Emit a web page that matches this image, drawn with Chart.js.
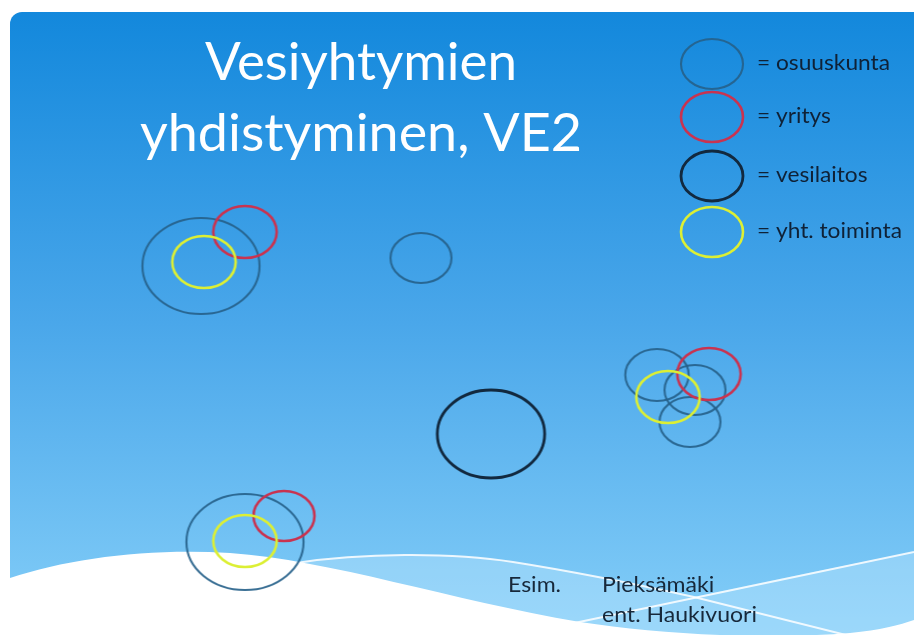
<!DOCTYPE html>
<html>
<head>
<meta charset="utf-8">
<title>Vesiyhtymien yhdistyminen, VE2</title>
<script src="https://cdn.jsdelivr.net/npm/chart.js@4"></script>
<style>
  html, body { margin: 0; padding: 0; background: #fff; overflow: hidden; }
  #wrap { position: relative; width: 914px; height: 635px; }
</style>
</head>
<body>
<div id="wrap"><canvas id="myChart"></canvas></div>
<script>
const TITLE = ['Vesiyhtymien', 'yhdistyminen, VE2'];
const CATEGORIES = ['osuuskunta', 'yritys', 'vesilaitos', 'yht. toiminta'];
const NOTE_LEFT = 'Esim.';
const NOTE_RIGHT = ['Pieksämäki', 'ent. Haukivuori'];

// slide units: x to the right, y downwards; r = half height of the ring
const osuuskuntaX = [201, 421, 657, 695, 690, 245];
const osuuskuntaY = [266, 258, 375, 390, 422, 542];
const osuuskuntaR = [48, 25, 26, 25, 25, 48];

const yritysX = [245, 709, 284];
const yritysY = [232, 374, 516];
const yritysR = [26, 26, 25];

const vesilaitosX = [491];
const vesilaitosY = [434];
const vesilaitosR = [44];

const yhtToimintaX = [204, 668, 245];
const yhtToimintaY = [262, 397, 541];
const yhtToimintaR = [26, 26, 26];

const ASPECT = 1.22; // rings are a bit wider than tall

const STYLES = {
  'osuuskunta': { color: 'rgba(38,96,138,0.9)', width: 2.1, order: 3 },
  'yritys': { color: '#c93350', width: 2.6, order: 1 },
  'vesilaitos': { color: '#12293f', width: 2.8, order: 2 },
  'yht. toiminta': { color: '#dcef34', width: 2.6, order: 0 }
};

const ellipseCache = {};
function ellipseImage(rx, ry, color, lw) {
  const key = [rx, ry, color, lw].join('|');
  if (ellipseCache[key]) return ellipseCache[key];
  const c = document.createElement('canvas');
  const pad = Math.ceil(lw) + 2;
  c.width = Math.round(rx * 2 + pad * 2);
  c.height = Math.round(ry * 2 + pad * 2);
  const g = c.getContext('2d');
  g.strokeStyle = color;
  g.lineWidth = lw;
  g.beginPath();
  g.ellipse(c.width / 2, c.height / 2, rx, ry, 0, 0, Math.PI * 2);
  g.stroke();
  ellipseCache[key] = c;
  return c;
}

const series = (xs, ys, rs) => xs.map((x, i) => ({ x: x, y: ys[i], r: rs[i] }));

const SERIES = {
  'osuuskunta': series(osuuskuntaX, osuuskuntaY, osuuskuntaR),
  'yritys': series(yritysX, yritysY, yritysR),
  'vesilaitos': series(vesilaitosX, vesilaitosY, vesilaitosR),
  'yht. toiminta': series(yhtToimintaX, yhtToimintaY, yhtToimintaR)
};

// draw text squeezed/stretched horizontally
function fitText(ctx, text, x, y, scaleX) {
  ctx.save();
  ctx.translate(x, y);
  ctx.scale(scaleX, 1);
  ctx.fillText(text, 0, 0);
  ctx.restore();
}

const slideBackground = {
  id: 'slideBackground',
  beforeDraw(chart) {
    const ctx = chart.ctx;
    const w = chart.width, h = chart.height;
    ctx.save();
    ctx.fillStyle = '#ffffff';
    ctx.fillRect(0, 0, w, h);

    // slide body
    const grad = ctx.createLinearGradient(0, 12, 0, h);
    grad.addColorStop(0, '#1388dc');
    grad.addColorStop(0.5, '#4aa7ea');
    grad.addColorStop(1, '#84cef8');
    ctx.fillStyle = grad;
    ctx.beginPath();
    ctx.roundRect(10, 12, w + 20, h + 20, 12);
    ctx.fill();

    // light band behind the waves
    ctx.fillStyle = 'rgba(200,235,255,0.35)';
    ctx.beginPath();
    ctx.moveTo(296, 563);
    ctx.bezierCurveTo(360, 553, 450, 552, 513, 562);
    ctx.bezierCurveTo(570, 571, 640, 585, 694, 597);
    ctx.quadraticCurveTo(810, 572, w, 552);
    ctx.lineTo(w, h);
    ctx.lineTo(296, h);
    ctx.closePath();
    ctx.fill();

    // white wave
    ctx.fillStyle = '#ffffff';
    ctx.beginPath();
    ctx.moveTo(10, 578);
    ctx.bezierCurveTo(70, 558, 150, 548, 230, 553);
    ctx.bezierCurveTo(330, 560, 450, 600, 580, 622);
    ctx.bezierCurveTo(660, 634, 760, 640, 850, 633);
    ctx.bezierCurveTo(880, 630, 900, 625, w, 620);
    ctx.lineTo(w, h);
    ctx.lineTo(10, h);
    ctx.closePath();
    ctx.fill();

    // thin white lines
    ctx.strokeStyle = 'rgba(255,255,255,0.85)';
    ctx.lineWidth = 2;
    ctx.beginPath();
    ctx.moveTo(296, 563);
    ctx.bezierCurveTo(360, 553, 450, 552, 513, 562);
    ctx.bezierCurveTo(570, 571, 640, 585, 694, 597);
    ctx.lineTo(850, 636);
    ctx.stroke();
    ctx.beginPath();
    ctx.moveTo(560, 626);
    ctx.quadraticCurveTo(740, 588, w, 552);
    ctx.stroke();
    ctx.restore();
  },
  afterDraw(chart) {
    const ctx = chart.ctx;
    ctx.save();

    // title
    ctx.fillStyle = '#ffffff';
    ctx.textBaseline = 'alphabetic';
    ctx.textAlign = 'left';
    ctx.font = '52px Lato';
    const targets = [[205, 80, 312], [140, 151, 442]];
    TITLE.forEach((line, i) => {
      const t = targets[i];
      const wNat = ctx.measureText(line).width;
      fitText(ctx, line, t[0], t[1], t[2] / wNat);
    });

    // legend
    ctx.fillStyle = '#0f2136';
    ctx.font = '21px Lato';
    const legSx = 133 / ctx.measureText('= ' + CATEGORIES[0]).width;
    const legY = [64, 117, 176, 232];
    CATEGORIES.forEach((cat, i) => {
      const st = STYLES[cat];
      const img = ellipseImage(31, 25, st.color, st.width);
      ctx.drawImage(img, 712 - img.width / 2, legY[i] - img.height / 2);
      fitText(ctx, '= ' + cat, 757, legY[i] + 6, legSx);
    });

    // note
    ctx.fillStyle = '#17283a';
    ctx.font = '22px Lato';
    const noteSx = 155 / ctx.measureText(NOTE_RIGHT[1]).width;
    fitText(ctx, NOTE_LEFT, 508, 592, noteSx);
    fitText(ctx, NOTE_RIGHT[0], 602, 592, noteSx);
    fitText(ctx, NOTE_RIGHT[1], 602, 622, noteSx);
    ctx.restore();
  }
};

function draw() {
  const ctx = document.getElementById('myChart');
  new Chart(ctx, {
    type: 'bubble',
    data: {
      datasets: CATEGORIES.map(cat => ({
        label: cat,
        data: SERIES[cat],
        order: STYLES[cat].order,
        clip: false,
        backgroundColor: 'rgba(0,0,0,0)',
        borderWidth: 0,
        pointStyle: c => c.raw ? ellipseImage(c.raw.r * ASPECT, c.raw.r, STYLES[cat].color, STYLES[cat].width) : 'circle'
      }))
    },
    options: {
      responsive: true,
      maintainAspectRatio: false,
      animation: false,
      events: [],
      layout: { autoPadding: false, padding: 0 },
      scales: {
        x: { type: 'linear', min: 0, max: 914, display: false },
        y: { type: 'linear', min: 0, max: 635, reverse: true, display: false }
      },
      plugins: {
        legend: { display: false },
        tooltip: { enabled: false }
      }
    },
    plugins: [slideBackground]
  });
}

Promise.all([
  document.fonts.load('52px Lato'),
  document.fonts.load('21px Lato')
]).then(draw, draw);
</script>
</body>
</html>
